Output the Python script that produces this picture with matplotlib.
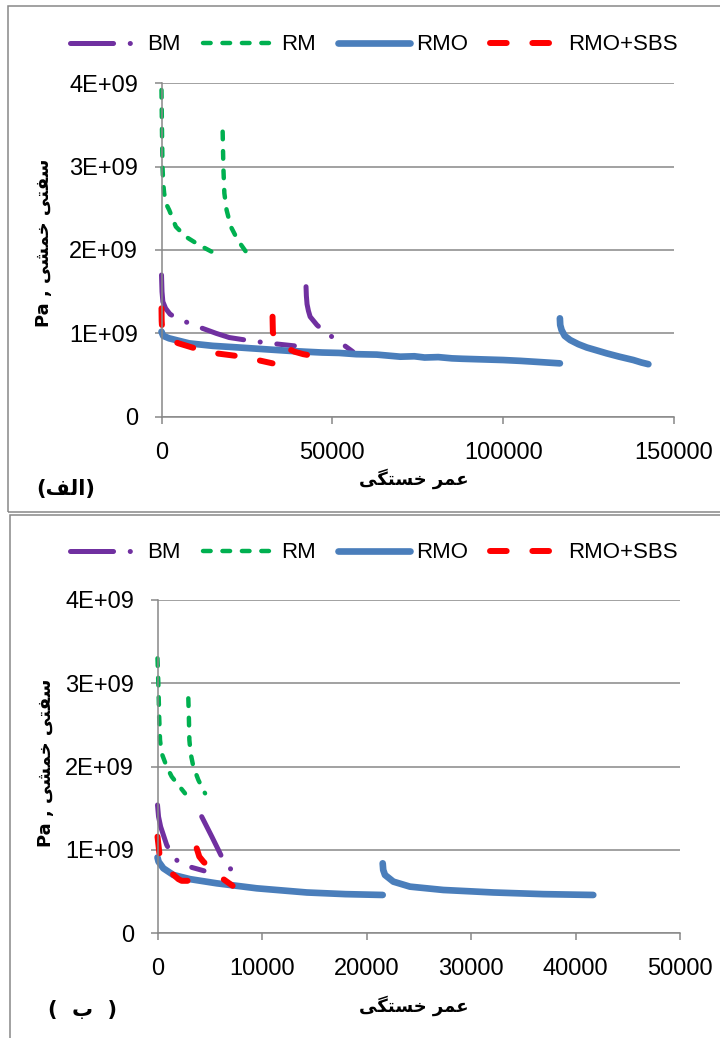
import numpy as np
import matplotlib
matplotlib.use("Agg")
import matplotlib.pyplot as plt
from matplotlib.patches import Rectangle
from matplotlib.ticker import FuncFormatter

plt.rcParams['font.family'] = ['Liberation Sans', 'DejaVu Sans']
plt.rcParams['lines.scale_dashes'] = False

nan = np.nan

# ---- panel (a): fatigue life up to 150000 cycles, stiffness in 1E+09 Pa
a_bm_x = [0, 150, 400, 1200, 2500, 5000, 7600, 12000, 16000, 19800, 23000, 26200, 32000, 38900,
          nan, 42300, 42400, 42600, 43000, 43500, 45500, 47700, 52000, 56000]
a_bm_y = [1.70, 1.50, 1.38, 1.30, 1.23, 1.17, 1.13, 1.06, 1.00, 0.95, 0.93, 0.91, 0.88, 0.85,
          nan, 1.56, 1.45, 1.35, 1.27, 1.20, 1.10, 1.02, 0.90, 0.78]
a_rm_x = [0, 150, 290, 500, 780, 1400, 2250, 4200, 7100, 11000, 14650, 17600,
          nan, 17900, 18100, 18400, 19050, 20300, 22300, 24700]
a_rm_y = [3.92, 3.40, 3.00, 2.80, 2.68, 2.55, 2.48, 2.28, 2.16, 2.06, 1.98, 1.95,
          nan, 3.42, 3.00, 2.68, 2.48, 2.28, 2.12, 1.98]
a_rmo_x = [0, 500, 2250, 8100, 15000, 22800, 30000, 37400, 42000, 47000, 52000, 57000, 63000,
           69900, 74000, 77000, 81000, 85000, 88000, 92000, 96000, 100000, 105000, 110900, 116600,
           nan, 116600, 116700, 117100, 118000, 119600, 122000, 124500, 127000, 130300, 134000,
           138100, 140500, 142500]
a_rmo_y = [1.02, 0.97, 0.94, 0.88, 0.85, 0.83, 0.81, 0.79, 0.78, 0.77, 0.765, 0.75, 0.745,
           0.72, 0.725, 0.71, 0.715, 0.70, 0.695, 0.69, 0.685, 0.68, 0.67, 0.655, 0.64,
           nan, 1.18, 1.10, 1.04, 0.97, 0.92, 0.87, 0.83, 0.80, 0.76, 0.72,
           0.68, 0.65, 0.63]
a_sbs_x = [0, 50, 150, 600, 2000, 5000, 9000, 12500, 16000, 21800, 25000, 28100, 32500,
           nan, 32500, 32550, 32600, 33500, 35000, 38900, 41500, 44300, 49600]
a_sbs_y = [1.30, 1.15, 1.08, 1.00, 0.93, 0.88, 0.83, 0.79, 0.76, 0.73, 0.70, 0.68, 0.64,
           nan, 1.20, 1.10, 1.01, 0.92, 0.86, 0.78, 0.75, 0.73, 0.70]

# ---- panel (b): fatigue life up to 50000 cycles
b_bm_x = [0, 100, 300, 880, 1500, 2150, 3300, 4450,
          nan, 4230, 5200, 6140, 6800, 7510]
b_bm_y = [1.54, 1.40, 1.28, 1.06, 0.92, 0.84, 0.79, 0.75,
          nan, 1.40, 1.16, 0.92, 0.80, 0.70]
b_rm_x = [0, 80, 160, 240, 400, 880, 1360, 1990, 2630,
          nan, 2950, 3000, 3050, 3170, 3430, 3910, 4550]
b_rm_y = [3.30, 3.00, 2.60, 2.32, 2.16, 2.00, 1.88, 1.78, 1.68,
          nan, 2.82, 2.60, 2.32, 2.16, 2.00, 1.84, 1.68]
b_rmo_x = [0, 100, 560, 1520, 3110, 5660, 9490, 14280, 18000, 21550,
           nan, 21550, 21600, 21770, 22570, 24160, 27350, 32140, 36920, 41700]
b_rmo_y = [0.91, 0.86, 0.78, 0.70, 0.65, 0.60, 0.54, 0.49, 0.47, 0.46,
           nan, 0.84, 0.76, 0.70, 0.62, 0.56, 0.52, 0.49, 0.47, 0.46]
b_sbs_x = [0, 100, 180, 500, 1360, 2000, 2310, 2950,
           nan, 3750, 4000, 4390, 5200, 6080, 7190]
b_sbs_y = [1.16, 1.05, 0.96, 0.85, 0.72, 0.65, 0.63, 0.63,
           nan, 1.02, 0.92, 0.86, 0.76, 0.67, 0.57]

labels = ['BM', 'RM', 'RMO', 'RMO+SBS']
y_ticks = [0, 1, 2, 3, 4]

GRID = '#888888'
styles = {
    'BM': dict(color='#7030A0', lw=3.6, dashes=(31, 12, 0.1, 12)),
    'RM': dict(color='#00B050', lw=3.2, dashes=(5.5, 8.5)),
    'RMO': dict(color='#4A7EBB', lw=4.8),
    'RMO+SBS': dict(color='#FF0000', lw=4.3, dashes=(12, 18.5)),
}

# Persian text: matplotlib has no shaping, so pick presentation forms by hand
FORMS = {
    'ا': ('\uFE8D', '\uFE8E', None, None),
    'ب': ('\uFE8F', '\uFE90', '\uFE91', '\uFE92'),
    'ت': ('\uFE95', '\uFE96', '\uFE97', '\uFE98'),
    'خ': ('\uFEA5', '\uFEA6', '\uFEA7', '\uFEA8'),
    'ر': ('\uFEAD', '\uFEAE', None, None),
    'س': ('\uFEB1', '\uFEB2', '\uFEB3', '\uFEB4'),
    'ش': ('\uFEB5', '\uFEB6', '\uFEB7', '\uFEB8'),
    'ع': ('\uFEC9', '\uFECA', '\uFECB', '\uFECC'),
    'ف': ('\uFED1', '\uFED2', '\uFED3', '\uFED4'),
    'ل': ('\uFEDD', '\uFEDE', '\uFEDF', '\uFEE0'),
    'م': ('\uFEE1', '\uFEE2', '\uFEE3', '\uFEE4'),
    'ی': ('\uFBFC', '\uFBFD', '\uFBFE', '\uFBFF'),
    'گ': ('\uFB92', '\uFB93', '\uFB94', '\uFB95'),
}


def shape(word):
    out = []
    n = len(word)
    for i, c in enumerate(word):
        iso, fin, ini, med = FORMS[c]
        prev = i > 0 and FORMS[word[i - 1]][2] is not None
        nxt = ini is not None and i < n - 1
        if prev and nxt:
            out.append(med)
        elif prev:
            out.append(fin)
        elif nxt:
            out.append(ini)
        else:
            out.append(iso)
    return ''.join(reversed(out))


ylab = 'Pa , ' + shape('خمشی') + ' ' + shape('سفتی')
xlab = shape('خستگی') + ' ' + shape('عمر')
tag_a = '(' + shape('الف') + ')'
tag_b = '(  ' + shape('ب') + '  )'

W, H = 720, 1038
fig = plt.figure(figsize=(W / 100, H / 100), dpi=100)


def fx(px):
    return px / W


def fy(py):
    return 1 - py / H


def panel(ax, data, xmax, xstep):
    for name, (x, y) in zip(labels, data):
        ax.plot(x, np.array(y) * 1e9, label=name, solid_capstyle='round',
                dash_capstyle='round', clip_on=False, **styles[name])
    ax.set_xlim(0, xmax)
    ax.set_ylim(0, 4e9)
    ax.set_xticks(np.arange(0, xmax + 1, xstep))
    ax.set_yticks([v * 1e9 for v in y_ticks])
    ax.yaxis.set_major_formatter(FuncFormatter(lambda v, p: '0' if v == 0 else '%dE+09' % round(v / 1e9)))
    ax.xaxis.set_major_formatter(FuncFormatter(lambda v, p: '%d' % v))
    ax.grid(axis='y', color=GRID, lw=1.1)
    ax.set_axisbelow(True)
    for s in ['top', 'right']:
        ax.spines[s].set_visible(False)
    for s in ['left', 'bottom']:
        ax.spines[s].set_color(GRID)
        ax.spines[s].set_linewidth(1.1)
    ax.tick_params(axis='both', direction='out', length=5, width=1.1, color=GRID,
                   labelsize=17)
    ax.tick_params(axis='y', pad=12)
    ax.tick_params(axis='x', pad=13)


ax1 = fig.add_axes([fx(161.5), fy(416.7), fx(674 - 161.5), (416.7 - 83.3) / H])
panel(ax1, [(a_bm_x, a_bm_y), (a_rm_x, a_rm_y), (a_rmo_x, a_rmo_y), (a_sbs_x, a_sbs_y)],
      150000, 50000)
ax2 = fig.add_axes([fx(157.5), fy(933.3), fx(680 - 157.5), (933.3 - 600) / H])
panel(ax2, [(b_bm_x, b_bm_y), (b_rm_x, b_rm_y), (b_rmo_x, b_rmo_y), (b_sbs_x, b_sbs_y)],
      50000, 10000)

for ax, ly in [(ax1, 45), (ax2, 553)]:
    h, l = ax.get_legend_handles_labels()
    fig.legend(h, l, loc='center', bbox_to_anchor=(fx(373.5), fy(ly)), ncol=4, frameon=False,
               fontsize=16, handlelength=3.25, handletextpad=0.25, columnspacing=1.0,
               borderpad=0, borderaxespad=0)

bold = dict(family=['DejaVu Sans'], fontweight='bold', ha='center', va='center')
fig.text(fx(44), fy(243), ylab, rotation=90, fontsize=13, **bold)
fig.text(fx(46), fy(763), ylab, rotation=90, fontsize=13, **bold)
fig.text(fx(414), fy(479), xlab, fontsize=13, **bold)
fig.text(fx(414), fy(1006), xlab, fontsize=13, **bold)
fig.text(fx(66), fy(489), tag_a, fontsize=15, **bold)
fig.text(fx(83), fy(1010), tag_b, fontsize=15, **bold)

# the two chart frames
fig.patches.append(Rectangle((fx(8), fy(512)), 1.0, (512 - 6) / H, transform=fig.transFigure,
                             fill=False, edgecolor=GRID, lw=1.1))
fig.patches.append(Rectangle((fx(10), -0.02), 1.0, fy(515) + 0.02, transform=fig.transFigure,
                             fill=False, edgecolor=GRID, lw=1.1))

fig.savefig('out.png', dpi=100)
